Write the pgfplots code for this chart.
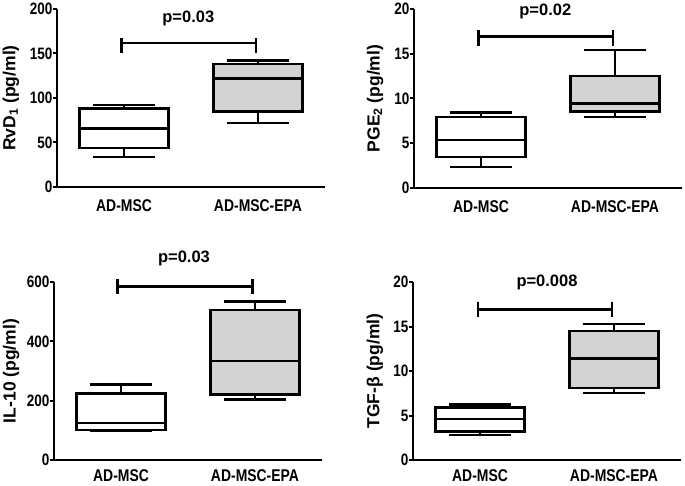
\documentclass[border=0pt]{standalone}
\usepackage{fontspec}
\setmainfont{Liberation Sans}[FakeStretch=0.82]
\newfontfamily\widefont{Liberation Sans}
\usepackage{pgfplots}
\pgfplotsset{compat=1.18}
\definecolor{boxgray}{RGB}{210,210,210}
\newcommand{\lab}{\bfseries\fontsize{16.5}{18}\selectfont}
\newcommand{\xlab}{\bfseries\fontsize{17}{18}\selectfont}
\newcommand{\ylab}{\widefont\bfseries\fontsize{17.5}{19}\selectfont}
\newcommand{\plab}{\widefont\bfseries\fontsize{16.5}{18}\selectfont}
\pgfplotsset{
  panel/.style={
    scale only axis, width=268pt, height=178pt,
    anchor=south west,
    axis x line*=bottom, axis y line*=left,
    axis line style={line width=2.6pt,-},
    xmin=0.5, xmax=2.5, ymin=0,
    xtick={1,2}, xticklabels={AD-MSC,AD-MSC-EPA},
    x tick style={draw=none},
    y tick style={line width=2pt,black},
    tick align=outside, major tick length=4pt,
    /pgf/number format/assume math mode=true,
    yticklabel style={font=\lab, xshift=3pt},
    xticklabel style={font=\xlab},
    clip=false,
  },
  bx/.style={black, line width=2.6pt, fill=white},
  bxg/.style={black, line width=2.6pt, fill=boxgray},
  br/.style={black, line width=2.6pt},
}
\begin{document}
\begin{tikzpicture}
\path[use as bounding box] (0,0) rectangle (685pt,485pt);
% Panel 1: RvD1
\begin{axis}[panel, at={(57pt,298pt)}, ymax=200, ytick={0,50,100,150,200},
  xticklabel style={yshift=-5pt},
  ylabel={RvD\textsubscript{1} (pg/ml)},
  every axis y label/.style={at={(axis description cs:-0.172,0.5)},rotate=90,anchor=center,font=\ylab}]
% AD-MSC: lw 33.5, q1 44, med 66, q3 88, uw 92
\addplot[br] coordinates {(1,33.5) (1,44)};
\addplot[br] coordinates {(1,88) (1,92)};
\addplot[br] coordinates {(0.765,33.5) (1.235,33.5)};
\addplot[br] coordinates {(0.765,92) (1.235,92)};
\addplot[bx] coordinates {(0.667,44) (1.333,44) (1.333,88) (0.667,88)} -- cycle;
\addplot[br] coordinates {(0.667,66) (1.333,66)};
% AD-MSC-EPA: lw 72, q1 85, med 122, q3 138, uw 142
\addplot[br] coordinates {(2,72) (2,85)};
\addplot[br] coordinates {(2,138) (2,142)};
\addplot[br] coordinates {(1.765,72) (2.235,72)};
\addplot[br] coordinates {(1.765,142) (2.235,142)};
\addplot[bxg] coordinates {(1.667,85) (2.333,85) (2.333,138) (1.667,138)} -- cycle;
\addplot[br] coordinates {(1.667,122) (2.333,122)};
% bracket
\addplot[br] coordinates {(0.98,151) (0.98,167)};
\addplot[br] coordinates {(0.98,162) (1.985,162)};
\addplot[br] coordinates {(1.985,151) (1.985,167)};
\node[font=\plab] at (axis cs:1.48,189) {p=0.03};
\end{axis}
% Panel 2: PGE2
\begin{axis}[panel, at={(414pt,297pt)}, height=179pt, ymax=20, ytick={0,5,10,15,20},
  xticklabel style={yshift=-5pt},
  ylabel={PGE\textsubscript{2} (pg/ml)},
  every axis y label/.style={at={(axis description cs:-0.145,0.5)},rotate=90,anchor=center,font=\ylab}]
% AD-MSC: 2.35, 3.46, 5.36, 7.93, 8.45
\addplot[br] coordinates {(1,2.35) (1,3.46)};
\addplot[br] coordinates {(1,7.93) (1,8.45)};
\addplot[br] coordinates {(0.765,2.35) (1.235,2.35)};
\addplot[br] coordinates {(0.765,8.45) (1.235,8.45)};
\addplot[bx] coordinates {(0.667,3.46) (1.333,3.46) (1.333,7.93) (0.667,7.93)} -- cycle;
\addplot[br] coordinates {(0.667,5.36) (1.333,5.36)};
% AD-MSC-EPA: 7.93, 8.53, 9.42, 12.5, 15.4
\addplot[br] coordinates {(2,7.93) (2,8.53)};
\addplot[br] coordinates {(2,12.5) (2,15.4)};
\addplot[br] coordinates {(1.765,7.93) (2.235,7.93)};
\addplot[br] coordinates {(1.765,15.4) (2.235,15.4)};
\addplot[bxg] coordinates {(1.667,8.53) (2.333,8.53) (2.333,12.5) (1.667,12.5)} -- cycle;
\addplot[br] coordinates {(1.667,9.42) (2.333,9.42)};
\addplot[br] coordinates {(0.98,15.9) (0.98,17.6)};
\addplot[br] coordinates {(0.98,16.9) (1.985,16.9)};
\addplot[br] coordinates {(1.985,15.9) (1.985,17.6)};
\node[font=\plab] at (axis cs:1.48,19.7) {p=0.02};
\end{axis}
% Panel 3: IL-10
\begin{axis}[panel, at={(54pt,25pt)}, ymax=600, ytick={0,200,400,600},
  xticklabel style={yshift=-2pt},
  ylabel={IL-10 (pg/ml)},
  every axis y label/.style={at={(axis description cs:-0.16,0.5)},rotate=90,anchor=center,font=\ylab}]
% AD-MSC: 100, 101, 125, 224, 255
\addplot[br] coordinates {(1,224) (1,255)};
\addplot[br] coordinates {(0.765,100) (1.235,100)};
\addplot[br] coordinates {(0.765,255) (1.235,255)};
\addplot[bx] coordinates {(0.667,101) (1.333,101) (1.333,224) (0.667,224)} -- cycle;
\addplot[br] coordinates {(0.667,125) (1.333,125)};
% AD-MSC-EPA: 204, 220, 334, 506, 535
\addplot[br] coordinates {(2,204) (2,220)};
\addplot[br] coordinates {(2,506) (2,535)};
\addplot[br] coordinates {(1.765,204) (2.235,204)};
\addplot[br] coordinates {(1.765,535) (2.235,535)};
\addplot[bxg] coordinates {(1.667,220) (2.333,220) (2.333,506) (1.667,506)} -- cycle;
\addplot[br] coordinates {(1.667,334) (2.333,334)};
\addplot[br] coordinates {(0.975,561) (0.975,609)};
\addplot[br] coordinates {(0.975,585) (1.98,585)};
\addplot[br] coordinates {(1.98,561) (1.98,609)};
\node[font=\plab] at (axis cs:1.47,681) {p=0.03};
\end{axis}
% Panel 4: TGF-beta
\begin{axis}[panel, at={(413pt,25pt)}, ymax=20, ytick={0,5,10,15,20},
  xticklabel style={yshift=-2pt},
  ylabel={TGF-β (pg/ml)},
  every axis y label/.style={at={(axis description cs:-0.142,0.5)},rotate=90,anchor=center,font=\ylab}]
% AD-MSC: 2.8, 3.21, 4.6, 5.87, 6.24
\addplot[br] coordinates {(1,2.8) (1,3.21)};
\addplot[br] coordinates {(1,5.87) (1,6.24)};
\addplot[br] coordinates {(0.765,2.8) (1.235,2.8)};
\addplot[br] coordinates {(0.765,6.24) (1.235,6.24)};
\addplot[bx] coordinates {(0.667,3.21) (1.333,3.21) (1.333,5.87) (0.667,5.87)} -- cycle;
\addplot[br] coordinates {(0.667,4.6) (1.333,4.6)};
% AD-MSC-EPA: 7.55, 8.11, 11.4, 14.5, 15.3
\addplot[br] coordinates {(2,7.55) (2,8.11)};
\addplot[br] coordinates {(2,14.5) (2,15.3)};
\addplot[br] coordinates {(1.765,7.55) (2.235,7.55)};
\addplot[br] coordinates {(1.765,15.3) (2.235,15.3)};
\addplot[bxg] coordinates {(1.667,8.11) (2.333,8.11) (2.333,14.5) (1.667,14.5)} -- cycle;
\addplot[br] coordinates {(1.667,11.4) (2.333,11.4)};
\addplot[br] coordinates {(0.985,16.1) (0.985,17.7)};
\addplot[br] coordinates {(0.985,16.9) (1.985,16.9)};
\addplot[br] coordinates {(1.985,16.1) (1.985,17.7)};
\node[font=\plab] at (axis cs:1.5,20) {p=0.008};
\end{axis}
\end{tikzpicture}
\end{document}
